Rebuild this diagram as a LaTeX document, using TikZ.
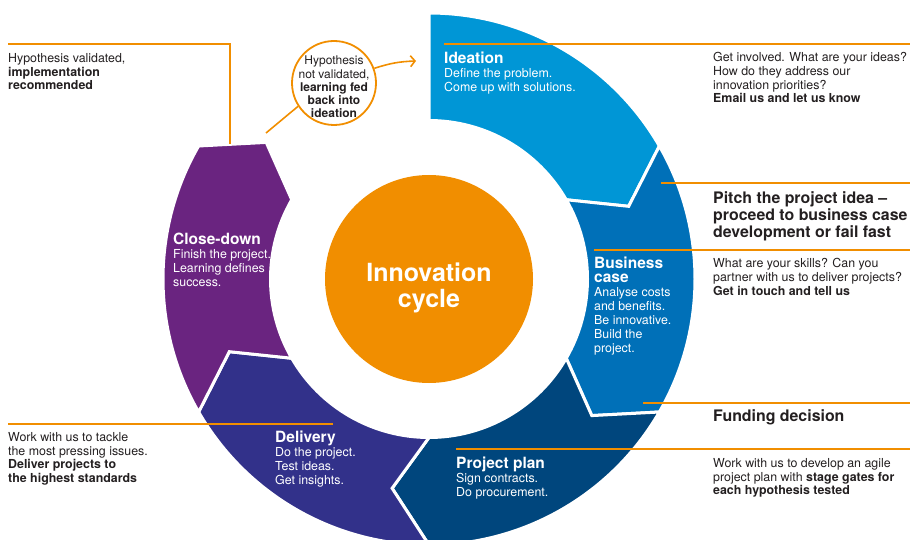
\documentclass[tikz,border=0pt]{standalone}
\usepackage{fontspec}
\setmainfont{TeX Gyre Heros}
\usetikzlibrary{arrows.meta}
\definecolor{cIdea}{HTML}{0096D6}
\definecolor{cBiz}{HTML}{0070B8}
\definecolor{cPlan}{HTML}{00467D}
\definecolor{cDel}{HTML}{32318A}
\definecolor{cClose}{HTML}{6A2480}
\definecolor{cOr}{HTML}{F18E00}
\definecolor{cTxt}{HTML}{231F20}
\tikzset{
  seg/.style={draw=white,line width=3pt,line join=miter},
  oline/.style={draw=cOr,line width=1.6pt},
  body/.style={font=\fontsize{12.4}{13.6}\selectfont,text=cTxt,align=left,inner sep=0pt,anchor=north west},
  segtxt/.style={font=\fontsize{12.4}{14}\selectfont,text=white,align=left,inner sep=0pt,anchor=north west},
  bighead/.style={font=\fontsize{15.9}{17.2}\selectfont\bfseries,text=cTxt,align=left,inner sep=0pt,anchor=north west},
}
\newcommand{\sttl}[1]{{\fontsize{15.5}{14}\selectfont\bfseries #1}}
\begin{document}
\begin{tikzpicture}[x=1pt,y=1pt]
\useasboundingbox (0,0) rectangle (910,539);
% ring segments
\begin{scope}[shift={(429,260)}]
\filldraw[seg,fill=cIdea] (90:266) arc[start angle=90,end angle=30,radius=266] -- (20:212.5) -- (30:158.5) arc[start angle=30,end angle=90,radius=158.5] -- cycle;
\filldraw[seg,fill=cBiz] (30:266) arc[start angle=30,end angle=-30,radius=266] -- (-40:212.5) -- (-30:158.5) arc[start angle=-30,end angle=30,radius=158.5] -- (20:212.5) -- cycle;
\filldraw[seg,fill=cPlan] (-30:266) arc[start angle=-30,end angle=-90,radius=266] -- (-100:212.5) -- (-90:158.5) arc[start angle=-90,end angle=-30,radius=158.5] -- (-40:212.5) -- cycle;
\filldraw[seg,fill=cDel] (-90:266) arc[start angle=-90,end angle=-150,radius=266] -- (-160:212.5) -- (-150:158.5) arc[start angle=-150,end angle=-90,radius=158.5] -- (-100:212.5) -- cycle;
\filldraw[seg,fill=cClose] (-150:266) arc[start angle=-150,end angle=-210,radius=266] -- (-220:212.5) -- (-210:158.5) arc[start angle=-210,end angle=-150,radius=158.5] -- (-160:212.5) -- cycle;
\end{scope}
% core
\node[circle,fill=cOr,minimum size=208pt,inner sep=0pt] (core) at (429,260) {};
\node[font=\fontsize{25}{26}\selectfont\bfseries,text=white,align=center,inner sep=0pt,anchor=north] (coretxt) at (429,276) {Innovation\\cycle};
% orange connector lines
\coordinate (l1a) at (8,495); \coordinate (l1b) at (230,495); \coordinate (l1c) at (230,395);
\draw[oline] (l1a) -- (l1b) -- (l1c);
\coordinate (l2a) at (444,495); \coordinate (l2b) at (910,495);
\draw[oline] (l2a) -- (l2b);
\coordinate (l3a) at (661,356); \coordinate (l3b) at (910,356);
\draw[oline] (l3a) -- (l3b);
\coordinate (l4a) at (594,289); \coordinate (l4b) at (910,289);
\draw[oline] (l4a) -- (l4b);
\coordinate (l5a) at (643,136); \coordinate (l5b) at (910,136);
\draw[oline] (l5a) -- (l5b);
\coordinate (l6a) at (456,90); \coordinate (l6b) at (910,90);
\draw[oline] (l6a) -- (l6b);
\coordinate (l7a) at (8,115); \coordinate (l7b) at (333,115);
\draw[oline] (l7a) -- (l7b);
% hypothesis circle
\node[circle,draw=cOr,line width=1.8pt,minimum size=84pt,inner sep=0pt,fill=white] (hyp) at (334,456) {};
\node[font=\fontsize{12}{13.3}\selectfont,text=cTxt,align=center,inner sep=0pt] (hyptxt) at (334,452) {Hypothesis\\not validated,\\\textbf{learning fed}\\\textbf{back into}\\\textbf{ideation}};
\coordinate (arrend) at (416,478);
\draw[oline,-{Straight Barb[length=4.5pt,width=11pt]}] (hyp.20) to[bend left=8] (arrend);
\coordinate (cdtip) at (266,406);
\draw[oline] (hyp.213) -- (cdtip);
% segment texts
\node[segtxt] (tIdea) at (444,487.7) {\sttl{Ideation}\\Define the problem.\\Come up with solutions.};
\node[segtxt] (tBiz) at (594,282.7) {\sttl{Business}\\\sttl{case}\\Analyse costs\\and benefits.\\Be innovative.\\Build the\\project.};
\node[segtxt] (tPlan) at (456,82.7) {\sttl{Project plan}\\Sign contracts.\\Do procurement.};
\node[segtxt] (tDel) at (275,108.7) {\sttl{Delivery}\\Do the project.\\Test ideas.\\Get insights.};
\node[segtxt] (tClose) at (173,305.7) {\sttl{Close-down}\\Finish the project.\\Learning defines\\success.};
% side texts
\node[body] (tValid) at (8,485.6) {Hypothesis validated,\\\textbf{implementation}\\\textbf{recommended}};
\node[body] (tInv) at (713,486.6) {Get involved. What are your ideas?\\How do they address our\\innovation priorities?\\\textbf{Email us and let us know}};
\node[bighead] (tPitch) at (713,347.9) {Pitch the project idea --\\proceed to business case\\development or fail fast};
\node[body] (tSkill) at (713,280.6) {What are your skills? Can you\\partner with us to deliver projects?\\\textbf{Get in touch and tell us}};
\node[bighead] (tFund) at (713,129.9) {Funding decision};
\node[body] (tAgile) at (713,80.6) {Work with us to develop an agile\\project plan with \textbf{stage gates for}\\\textbf{each hypothesis tested}};
\node[body] (tTackle) at (8,106.6) {Work with us to tackle\\the most pressing issues.\\\textbf{Deliver projects to}\\\textbf{the highest standards}};
\end{tikzpicture}
\end{document}
